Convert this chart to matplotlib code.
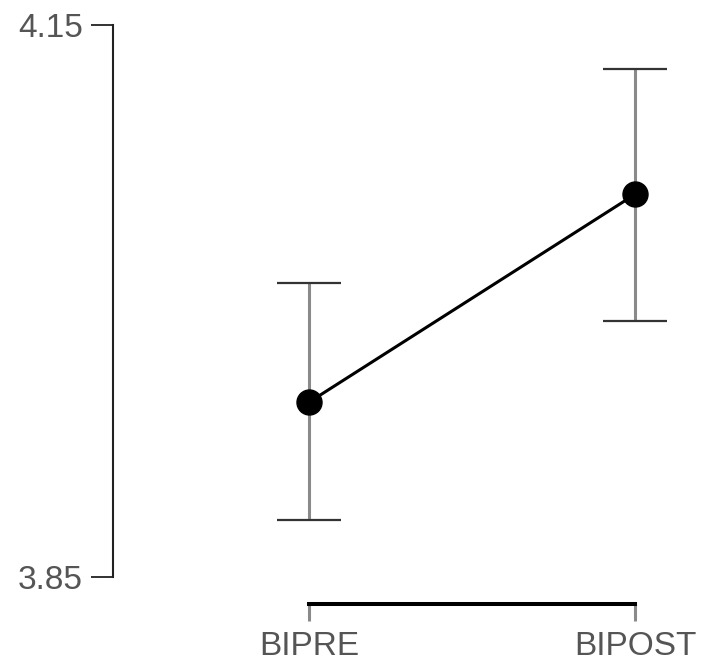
import numpy as np
import matplotlib.pyplot as plt

plt.rcParams['font.family'] = ['Liberation Sans', 'DejaVu Sans']

# data
conditions = ['BIPRE', 'BIPOST']
means = [3.945, 4.058]
upper = [4.010, 4.126]
lower = [3.881, 3.989]
y_ticks = [3.85, 4.15]

x = np.arange(len(conditions))
yerr = [np.array(means) - np.array(lower), np.array(upper) - np.array(means)]

fig = plt.figure(figsize=(7.06, 6.64), dpi=100)
ax = fig.add_axes([113 / 706, 87 / 664, 587 / 706, 552 / 664])

eb = ax.errorbar(x, means, yerr=yerr, fmt='none', ecolor='#8a8a8a', elinewidth=2.2,
                 capsize=23, capthick=1.6, zorder=2)
for cap in eb[1]:
    cap.set_markeredgecolor('#333333')
    cap.set_clip_on(False)
for col in eb[2]:
    col.set_clip_on(False)
ax.plot(x, means, color='black', lw=2.2, marker='o', markersize=18, zorder=3, clip_on=False)

ax.set_xlim(-0.601, 1.199)
ax.set_ylim(3.85, 4.15)

ax.spines['top'].set_visible(False)
ax.spines['right'].set_visible(False)
ax.spines['left'].set_bounds(3.85, 4.15)
ax.spines['left'].set_color('#222222')
ax.spines['left'].set_linewidth(1.5)
ax.spines['bottom'].set_position(('outward', 19.5))
ax.spines['bottom'].set_bounds(0, 1)
ax.spines['bottom'].set_color('black')
ax.spines['bottom'].set_linewidth(2.9)

ax.set_yticks(y_ticks)
ax.set_yticklabels(['%.2f' % v for v in y_ticks])
ax.set_xticks(x)
ax.set_xticklabels(conditions)
ax.tick_params(axis='y', length=16, width=1.3, color='#222222', pad=5.5,
               labelsize=24, labelcolor='#555555')
ax.tick_params(axis='x', length=12, width=2.2, color='#8a8a8a', pad=7.5,
               labelsize=24, labelcolor='#555555')

fig.savefig('out.png', dpi=100)
